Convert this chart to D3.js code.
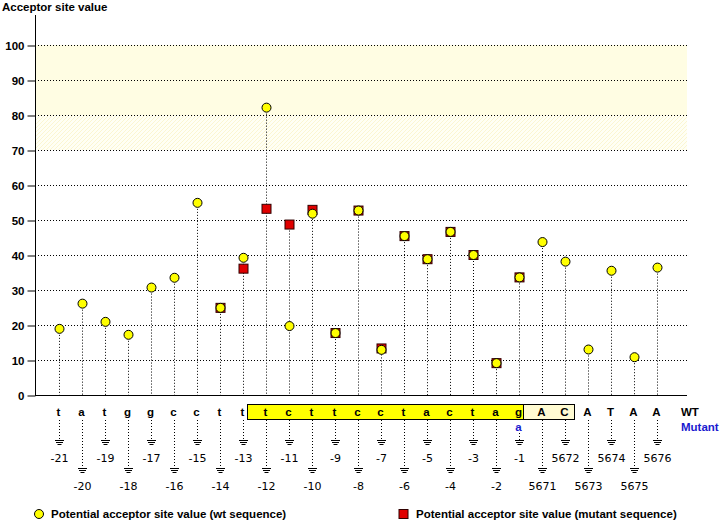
<!DOCTYPE html>
<html>
<head>
<meta charset="utf-8">
<script src="https://cdn.jsdelivr.net/npm/d3@7"></script>
<style>
  body { margin: 0; background: #fff; }
  text { font-family: "Liberation Sans", Arial, sans-serif; }
  .bold { font-weight: bold; }
</style>
</head>
<body>
<div id="chart"></div>
<script>
var svgWidth = 720;
var svgHeight = 520;

// positions along the sequence
var positions = ["-21", "-20", "-19", "-18", "-17", "-16", "-15", "-14", "-13", "-12", "-11",
    "-10", "-9", "-8", "-7", "-6", "-5", "-4", "-3", "-2", "-1",
    "5671", "5672", "5673", "5674", "5675", "5676"];

var wtBases = ["t", "a", "t", "g", "g", "c", "c", "t", "t", "t", "c",
    "t", "t", "c", "c", "t", "a", "c", "t", "a", "g",
    "A", "C", "A", "T", "A", "A"];

var mutantBases = ["", "", "", "", "", "", "", "", "", "", "",
    "", "", "", "", "", "", "", "", "", "a",
    "", "", "", "", "", ""];

var wtValues = [18.9, 26.1, 20.9, 17.2, 30.7, 33.5, 54.9, 24.9, 39.2, 82.1, 19.7,
    51.8, 17.7, 52.7, 12.9, 45.4, 38.8, 46.6, 40.0, 9.1, 33.6,
    43.7, 38.1, 13.0, 35.5, 10.8, 36.4];

var mutantValues = [null, null, null, null, null, null, null, 24.9, 36.1, 53.2, 48.7,
    52.9, 17.7, 52.7, 13.3, 45.4, 38.8, 46.6, 40.0, 9.1, 33.6,
    null, null, null, null, null, null];

var yTicks = [0, 10, 20, 30, 40, 50, 60, 70, 80, 90, 100];

var axisLeftX = 35;
var axisRightX = 687;
var zeroY = 395;

var svg = d3.select("#chart")
    .append("svg")
    .attr("width", svgWidth)
    .attr("height", svgHeight);

var xScale = d3.scalePoint()
    .domain(positions)
    .range([58.5, 656.5]);

var yScale = d3.scaleLinear()
    .domain([0, 100])
    .range([zeroY, 45]);

// hatch pattern for the 70-80 zone
var defs = svg.append("defs");
var pat = defs.append("pattern")
    .attr("id", "hatch")
    .attr("patternUnits", "userSpaceOnUse")
    .attr("width", 4)
    .attr("height", 4);
pat.append("rect").attr("width", 4).attr("height", 4).attr("fill", "#fffff4");
pat.append("path")
    .attr("d", "M0,4 L4,0 M-1,1 L1,-1 M3,5 L5,3")
    .attr("stroke", "#fbf6d2")
    .attr("stroke-width", 1);

// background bands
svg.append("rect")
    .attr("x", axisLeftX)
    .attr("y", yScale(100))
    .attr("width", axisRightX - axisLeftX)
    .attr("height", yScale(80) - yScale(100))
    .attr("fill", "#fffde3");

svg.append("rect")
    .attr("x", axisLeftX)
    .attr("y", yScale(80))
    .attr("width", axisRightX - axisLeftX)
    .attr("height", yScale(70) - yScale(80))
    .attr("fill", "url(#hatch)");

// dotted gridlines
svg.append("g")
    .selectAll("line")
    .data(yTicks.filter(d => d > 0))
    .enter()
    .append("line")
    .attr("x1", axisLeftX)
    .attr("x2", axisRightX)
    .attr("y1", d => yScale(d) + 0.5)
    .attr("y2", d => yScale(d) + 0.5)
    .attr("stroke", "#000")
    .attr("stroke-dasharray", "1,2");

// y axis
var leftAxis = d3.axisLeft(yScale)
    .tickValues(yTicks)
    .tickSize(8)
    .tickPadding(3);

var yAxis = svg.append("g")
    .attr("transform", `translate(${axisLeftX + 0.5}, 0.5)`)
    .call(leftAxis);
yAxis.select(".domain").remove();
yAxis.selectAll("text")
    .attr("class", "bold")
    .attr("font-size", "11.5px")
    .attr("fill", "#000")
    .style("font-family", "'Liberation Sans', Arial, sans-serif");
yAxis.selectAll("line").attr("stroke", "#000");

svg.append("line")
    .attr("x1", axisLeftX + 0.5)
    .attr("x2", axisLeftX + 0.5)
    .attr("y1", 15)
    .attr("y2", zeroY + 0.5)
    .attr("stroke", "#000");

svg.append("line")
    .attr("x1", axisLeftX)
    .attr("x2", axisRightX)
    .attr("y1", zeroY + 0.5)
    .attr("y2", zeroY + 0.5)
    .attr("stroke", "#000");

svg.append("text")
    .attr("class", "bold")
    .attr("x", 2)
    .attr("y", 11)
    .attr("font-size", "11.5px")
    .text("Acceptor site value");

// stems from points down to the axis
var stemTop = positions.map((p, i) => {
    var v = wtValues[i];
    if (mutantValues[i] !== null) v = Math.max(v, mutantValues[i]);
    return { pos: p, v: v };
});

svg.append("g")
    .selectAll("line")
    .data(stemTop)
    .enter()
    .append("line")
    .attr("x1", d => Math.round(xScale(d.pos)) + 0.5)
    .attr("x2", d => Math.round(xScale(d.pos)) + 0.5)
    .attr("y1", d => yScale(d.v))
    .attr("y2", zeroY)
    .attr("stroke", "#000")
    .attr("stroke-dasharray", "1,2");

// mutant squares
var mutData = positions.map((p, i) => ({ pos: p, v: mutantValues[i] }))
    .filter(d => d.v !== null);

svg.append("g")
    .selectAll("rect")
    .data(mutData)
    .enter()
    .append("rect")
    .attr("x", d => Math.round(xScale(d.pos)) - 4)
    .attr("y", d => yScale(d.v) - 4.5)
    .attr("width", 9)
    .attr("height", 9)
    .attr("fill", "#e00000")
    .attr("stroke", "#300000")
    .attr("stroke-width", 1);

// wt circles
svg.append("g")
    .selectAll("circle")
    .data(positions.map((p, i) => ({ pos: p, v: wtValues[i] })))
    .enter()
    .append("circle")
    .attr("cx", d => Math.round(xScale(d.pos)) + 0.5)
    .attr("cy", d => yScale(d.v))
    .attr("r", 4.5)
    .attr("fill", "#ffff00")
    .attr("stroke", "#000")
    .attr("stroke-width", 1);

// sequence boxes
var boxes = [
    { from: "-12", to: "-1", fill: "#ffff00" },
    { from: "5671", to: "5672", fill: "#fffbd2" }
];

svg.append("g")
    .selectAll("rect")
    .data(boxes)
    .enter()
    .append("rect")
    .attr("x", d => Math.round(xScale(d.from)) - 18.5)
    .attr("y", 404.5)
    .attr("width", d => xScale(d.to) - xScale(d.from) + 28)
    .attr("height", 15)
    .attr("fill", d => d.fill)
    .attr("stroke", "#000");

// bases (wt)
svg.append("g")
    .selectAll("text")
    .data(positions.map((p, i) => ({ pos: p, b: wtBases[i] })))
    .enter()
    .append("text")
    .attr("class", "bold")
    .attr("x", d => xScale(d.pos))
    .attr("y", 416)
    .attr("text-anchor", "middle")
    .attr("font-size", "11.5px")
    .text(d => d.b);

// bases (mutant)
svg.append("g")
    .selectAll("text")
    .data(positions.map((p, i) => ({ pos: p, b: mutantBases[i] })).filter(d => d.b !== ""))
    .enter()
    .append("text")
    .attr("class", "bold")
    .attr("x", d => xScale(d.pos))
    .attr("y", 431)
    .attr("text-anchor", "middle")
    .attr("font-size", "11.5px")
    .attr("fill", "#1a1ad0")
    .text(d => d.b);

svg.append("text")
    .attr("class", "bold")
    .attr("x", 681)
    .attr("y", 416)
    .attr("font-size", "11.5px")
    .text("WT");

svg.append("text")
    .attr("class", "bold")
    .attr("x", 681)
    .attr("y", 431)
    .attr("font-size", "11.5px")
    .attr("fill", "#1a1ad0")
    .text("Mutant");

// lower stems, ground symbols and position labels
var lower = svg.append("g")
    .selectAll("g")
    .data(positions.map((p, i) => ({ pos: p, i: i, hasMut: mutantBases[i] !== "" })))
    .enter()
    .append("g")
    .attr("transform", d => `translate(${Math.round(xScale(d.pos)) + 0.5}, 0)`);

lower.append("line")
    .attr("x1", 0)
    .attr("x2", 0)
    .attr("y1", d => d.hasMut ? 433 : 420)
    .attr("y2", d => d.i % 2 === 0 ? 440 : 468)
    .attr("stroke", "#000")
    .attr("stroke-dasharray", "1,2");

[[4, 0], [3, 2], [1.5, 4]].forEach(function(g) {
    lower.append("line")
        .attr("x1", -g[0] - 0.5)
        .attr("x2", g[0] + 0.5)
        .attr("y1", d => (d.i % 2 === 0 ? 440 : 468) + g[1] + 0.5)
        .attr("y2", d => (d.i % 2 === 0 ? 440 : 468) + g[1] + 0.5)
        .attr("stroke", "#000");
});

lower.append("text")
    .attr("x", 0)
    .attr("y", d => d.i % 2 === 0 ? 462 : 490)
    .attr("text-anchor", "middle")
    .attr("font-size", "11px")
    .style("font-family", "'DejaVu Sans', sans-serif")
    .text(d => d.pos);

// legend
svg.append("circle")
    .attr("cx", 39)
    .attr("cy", 514)
    .attr("r", 4.5)
    .attr("fill", "#ffff00")
    .attr("stroke", "#000");

svg.append("text")
    .attr("class", "bold")
    .attr("x", 51)
    .attr("y", 518)
    .attr("font-size", "11.5px")
    .text("Potential acceptor site value (wt sequence)");

svg.append("rect")
    .attr("x", 399)
    .attr("y", 509.5)
    .attr("width", 9)
    .attr("height", 9)
    .attr("fill", "#e00000")
    .attr("stroke", "#300000");

svg.append("text")
    .attr("class", "bold")
    .attr("x", 416)
    .attr("y", 518)
    .attr("font-size", "11.5px")
    .text("Potential acceptor site value (mutant sequence)");
</script>
</body>
</html>
